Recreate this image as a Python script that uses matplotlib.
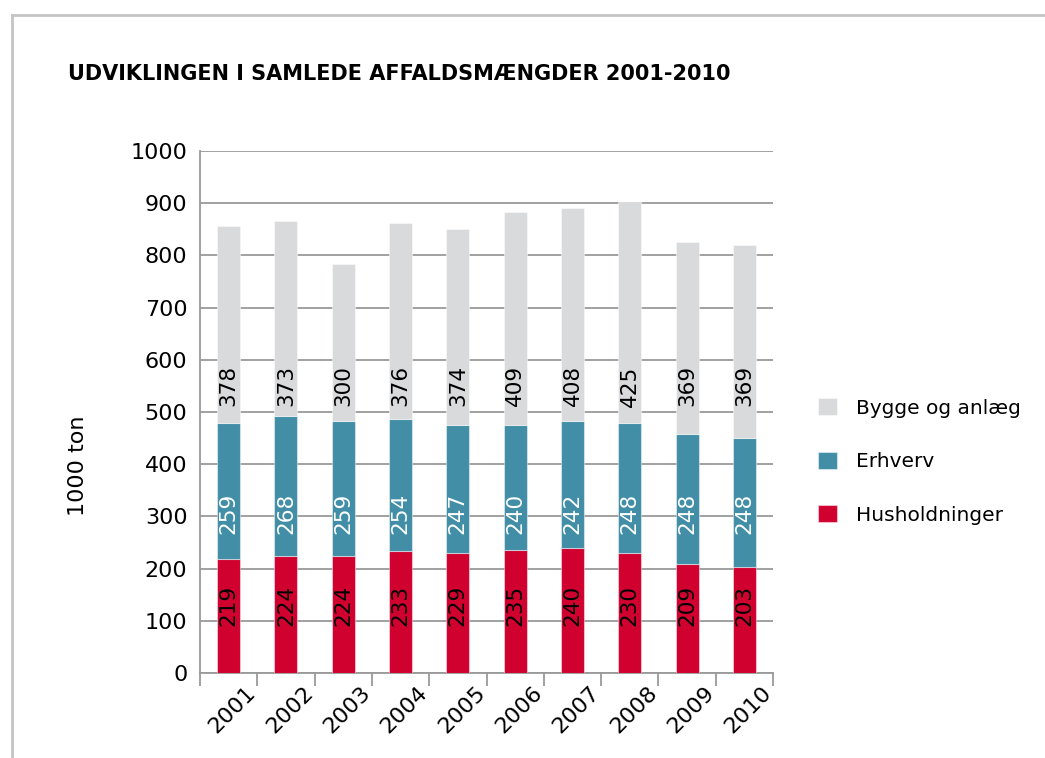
import matplotlib
matplotlib.use("Agg")
import matplotlib.pyplot as plt
import matplotlib.transforms as mtransforms
from matplotlib.lines import Line2D
import numpy as np

years = ["2001", "2002", "2003", "2004", "2005", "2006", "2007", "2008", "2009", "2010"]
husholdninger = [219, 224, 224, 233, 229, 235, 240, 230, 209, 203]
erhverv = [259, 268, 259, 254, 247, 240, 242, 248, 248, 248]
bygge = [378, 373, 300, 376, 374, 409, 408, 425, 369, 369]
series_names = ["Husholdninger", "Erhverv", "Bygge og anlæg"]
yticks = [0, 100, 200, 300, 400, 500, 600, 700, 800, 900, 1000]

colors = ["#D0002F", "#418EA6", "#D9DADB"]
label_colors = ["black", "white", "black"]
label_y = [130, 305, 550]

plt.rcParams['font.family'] = ['DejaVu Sans']

fig = plt.figure(figsize=(10.45, 7.58), dpi=100)
ax = fig.add_axes([200/1045, 1-673/758, 573/1045, 522/758])

x = np.arange(len(years))
data = [husholdninger, erhverv, bygge]
bottom = np.zeros(len(years))
handles = []
for vals, c, lc, ly, name in zip(data, colors, label_colors, label_y, series_names):
    vals = np.array(vals)
    b = ax.bar(x, vals, bottom=bottom, width=0.4, color=c,
               edgecolor=(1, 1, 1, 0.45), linewidth=0.8, zorder=3, label=name)
    handles.append(b)
    for xi, v in zip(x, vals):
        ax.text(xi, ly, str(v), rotation=90, ha='center', va='center',
                color=lc, fontsize=15.5, zorder=4)
    bottom = bottom + vals

ax.set_xlim(-0.5, len(years) - 0.5)
ax.set_ylim(0, 1000)
ax.set_yticks(yticks)
ax.set_yticklabels([str(t) for t in yticks], fontsize=16)
ax.tick_params(axis='y', length=0, pad=9)
ax.yaxis.grid(True, color='#9a9a9a', linewidth=1.3, zorder=0)
ax.set_axisbelow(True)

for s in ['top', 'right']:
    ax.spines[s].set_visible(False)
ax.spines['left'].set_color('#9a9a9a')
ax.spines['left'].set_linewidth(1.3)
ax.spines['bottom'].set_color('#9a9a9a')
ax.spines['bottom'].set_linewidth(1.3)

ax.set_xticks(x)
ax.set_xticklabels(years, rotation=45, ha='right', rotation_mode='anchor', fontsize=16)
ax.tick_params(axis='x', length=0, pad=7)
offset = mtransforms.ScaledTranslation(17/100, 0, fig.dpi_scale_trans)
for lab in ax.get_xticklabels():
    lab.set_transform(lab.get_transform() + offset)
ax.set_xticks(np.arange(-0.5, len(years)), minor=True)
ax.tick_params(axis='x', which='minor', length=9, width=1.3, color='#9a9a9a', direction='out')

fig.text(78/1045, 1-466/758, "1000 ton", rotation=90, ha='center', va='center', fontsize=16)

fig.text(68/1045, 1-80/758, "UDVIKLINGEN I SAMLEDE AFFALDSMÆNGDER 2001-2010",
         ha='left', va='baseline', fontsize=15, fontweight='bold')

leg = fig.legend(handles[::-1], series_names[::-1], loc='upper left',
                 bbox_to_anchor=(800/1045, 1-380/758), frameon=False, fontsize=14.5,
                 handlelength=0.95, handleheight=0.95, labelspacing=1.68, handletextpad=0.95)

fig.add_artist(Line2D([12/1045, 1], [1-15/758, 1-15/758], color='#c4c4c4', linewidth=2, transform=fig.transFigure))
fig.add_artist(Line2D([12/1045, 12/1045], [0, 1-15/758], color='#c4c4c4', linewidth=2, transform=fig.transFigure))

fig.savefig("out.png", dpi=100)
